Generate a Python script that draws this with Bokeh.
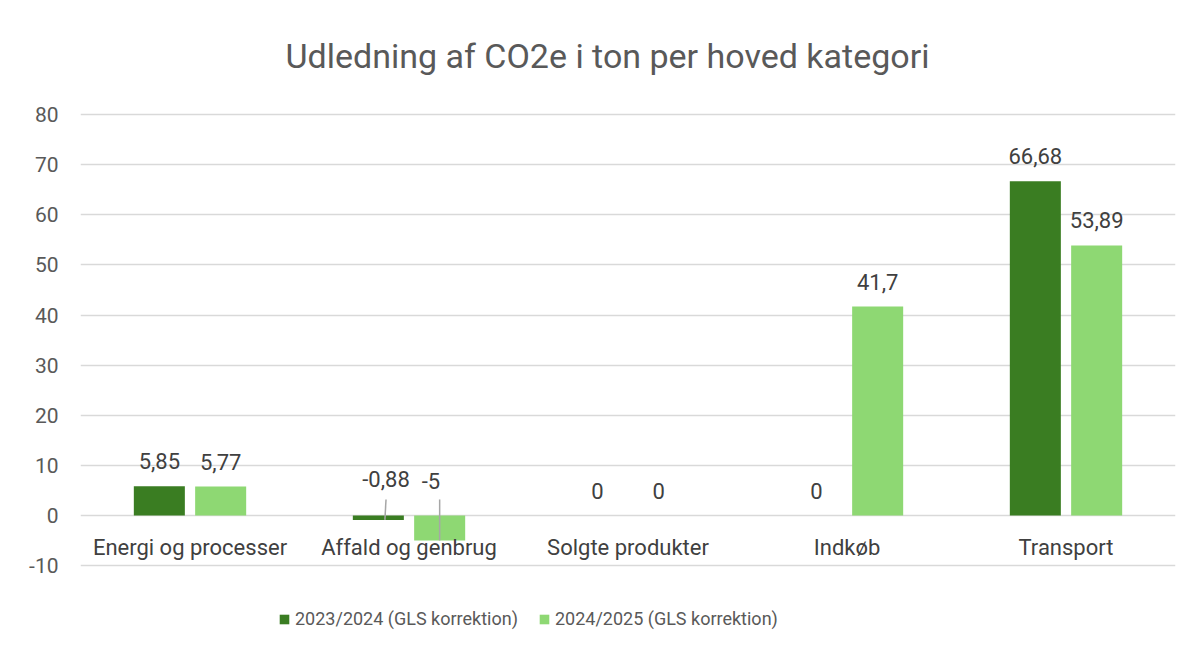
from bokeh.plotting import figure
from bokeh.models import ColumnDataSource, FactorRange, Legend, LegendItem, FixedTicker, Label
from bokeh.transform import dodge
from bokeh.core.properties import value
from bokeh.embed import file_html
from bokeh.resources import INLINE

categories = ["Energi og processer", "Affald og genbrug", "Solgte produkter", "Indkøb", "Transport"]
series_names = ["2023/2024 (GLS korrektion)", "2024/2025 (GLS korrektion)"]
v2324 = [5.85, -0.88, 0, 0, 66.68]
v2425 = [5.77, -5, 0, 41.7, 53.89]
lab2324 = ["5,85", "-0,88", "0", "0", "66,68"]
lab2425 = ["5,77", "-5", "0", "41,7", "53,89"]
yticks = [-10, 0, 10, 20, 30, 40, 50, 60, 70, 80]
ytick_labels = ["-10", "0", "10", "20", "30", "40", "50", "60", "70", "80"]
title_text = "Udledning af CO2e i ton per hoved kategori"

DARK = "#3A7D22"
LIGHT = "#8ED873"
FONT = "Roboto"

def split(vals, labs):
    pos = dict(cat=[], v=[], lab=[])
    neg = dict(cat=[], v=[], lab=[])
    for c, v, l in zip(categories, vals, labs):
        d = neg if v < 0 else pos
        d["cat"].append(c); d["v"].append(v); d["lab"].append(l)
    return pos, neg

src1 = ColumnDataSource(dict(cat=categories, v=v2324, lab=lab2324))
src2 = ColumnDataSource(dict(cat=categories, v=v2425, lab=lab2425))
p1, n1 = split(v2324, lab2324)
p2, n2 = split(v2425, lab2425)

# frame spans the whole chart area (title .. legend); only -10..80 carries ticks/grid
PX = 451 / 90.0
p = figure(x_range=FactorRange(*categories, range_padding=0),
           y_range=(-(640 - 515) / PX, (515 - 20) / PX),
           width=1185, height=644, output_backend="svg", toolbar_location=None,
           min_border_left=80, min_border_right=10, min_border_top=20, min_border_bottom=4)
p.outline_line_color = None
p.xaxis.visible = False
p.xgrid.grid_line_color = None
p.ygrid.grid_line_color = "#D9D9D9"
p.ygrid.grid_line_width = 1.5
p.yaxis.ticker = FixedTicker(ticks=yticks)
p.yaxis.major_label_overrides = {t: s for t, s in zip(yticks, ytick_labels)}
p.yaxis.axis_line_color = None
p.yaxis.major_tick_line_color = None
p.yaxis.minor_tick_line_color = None
p.yaxis.major_label_standoff = 16
p.yaxis.major_label_text_font = FONT
p.yaxis.major_label_text_font_size = "21px"
p.yaxis.major_label_text_color = "#595959"

w = 0.233
r1 = p.vbar(x=dodge("cat", -0.14, range=p.x_range), top="v", bottom=0, width=w, source=src1,
            fill_color=DARK, line_color=None)
r2 = p.vbar(x=dodge("cat", 0.14, range=p.x_range), top="v", bottom=0, width=w, source=src2,
            fill_color=LIGHT, line_color=None)

lab_kw = dict(text="lab", text_font=value(FONT), text_font_size="22px", text_color="#404040",
              text_align="center", text_baseline="middle")
p.text(x=dodge("cat", -0.14, range=p.x_range), y="v", y_offset=-25, source=ColumnDataSource(p1), **lab_kw)
p.text(x=dodge("cat", 0.14, range=p.x_range), y="v", y_offset=-25, source=ColumnDataSource(p2), **lab_kw)
# callouts for negative values, placed above the zero line with leader lines
n1s = ColumnDataSource(dict(n1, y0=[0]*len(n1["v"]), ytop=[3.2]*len(n1["v"])))
n2s = ColumnDataSource(dict(n2, y0=[0]*len(n2["v"]), ytop=[3.2]*len(n2["v"])))
p.segment(x0=dodge("cat", -0.105, range=p.x_range), y0="ytop", x1=dodge("cat", -0.11, range=p.x_range), y1="v",
          source=n1s, line_color="#A6A6A6", line_width=1.5)
p.segment(x0=dodge("cat", 0.14, range=p.x_range), y0="ytop", x1=dodge("cat", 0.14, range=p.x_range), y1="v",
          source=n2s, line_color="#A6A6A6", line_width=1.5)
p.text(x=dodge("cat", -0.105, range=p.x_range), y="y0", y_offset=-37, source=n1s, **lab_kw)
p.text(x=dodge("cat", 0.1, range=p.x_range), y="y0", y_offset=-35, source=n2s, **lab_kw)

# category labels just below the zero line
p.text(x="cat", y=0, y_offset=32, text="cat", source=ColumnDataSource(dict(cat=categories)),
       text_font=value(FONT), text_font_size="22px", text_color="#404040",
       text_align="center", text_baseline="middle")

p.add_layout(Label(x=527, y=585, x_units="screen", y_units="screen", text=title_text,
                   text_font=FONT, text_font_size="34px", text_color="#595959",
                   text_align="center", text_baseline="middle"))

legend = Legend(items=[LegendItem(label=series_names[0], renderers=[r1]),
                       LegendItem(label=series_names[1], renderers=[r2])],
                orientation="horizontal", location=(198, 11),
                label_text_font=FONT, label_text_font_size="18px", label_text_color="#595959",
                glyph_width=12, glyph_height=12, padding=4, spacing=20, border_line_color=None,
                background_fill_alpha=0, label_standoff=5)
p.add_layout(legend)

open("out.html", "w").write(file_html(p, INLINE))
